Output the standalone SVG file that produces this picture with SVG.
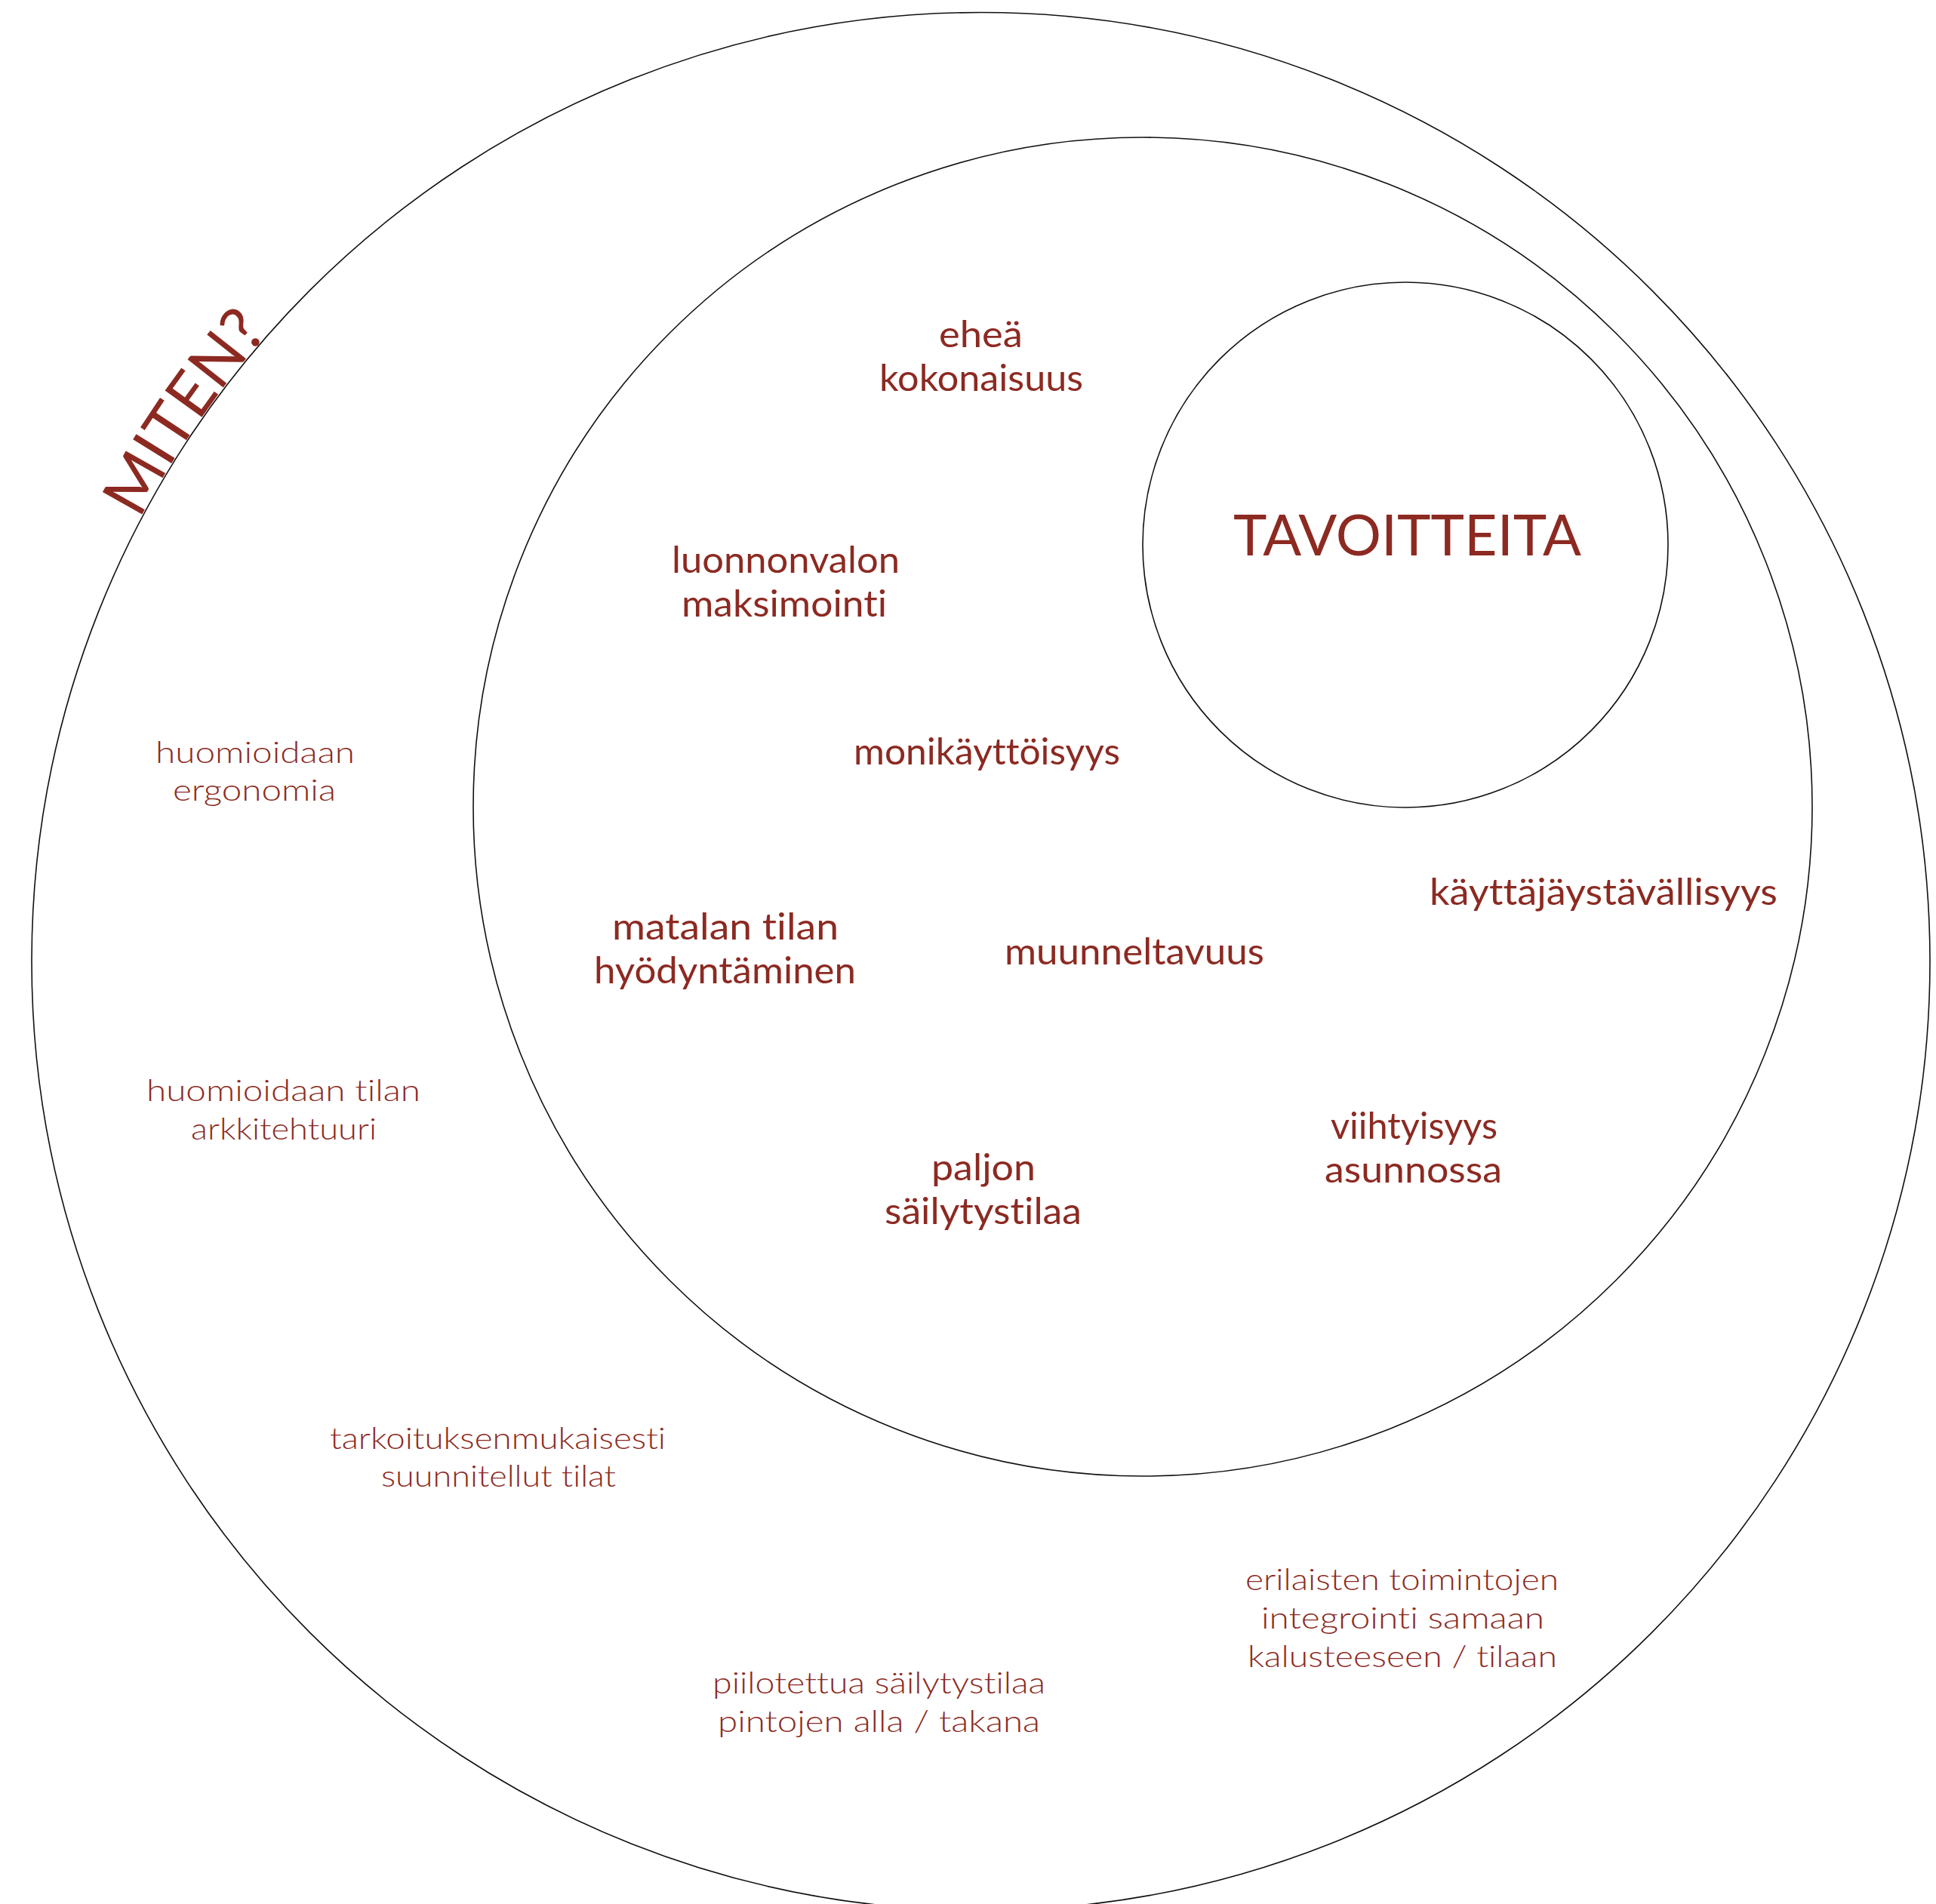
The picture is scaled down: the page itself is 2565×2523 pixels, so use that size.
<svg xmlns="http://www.w3.org/2000/svg" width="2565" height="2523" viewBox="0 0 2565 2523">
<style>
.ring{fill:none;stroke:#111;stroke-width:1.6}
.t{font-family:Lato,"Noto Sans","Liberation Sans",sans-serif;fill:#8c2a22;font-variant-ligatures:none}
.in{font-size:48px;font-weight:400}
.out{font-size:40px;font-weight:300}
.big{font-size:76px;font-weight:400}
</style>
<defs>
<path id="arc" d="M 59.6 1055.4 A 1259 1259 0 0 1 670 183.7"/>
</defs>
<rect width="2565" height="2523" fill="#fff"/>
<g id="outer-circle">
<circle class="ring" cx="1299.5" cy="1274" r="1257.5"/>
<text class="t" font-size="84" font-weight="400"><textPath href="#arc" startOffset="540" text-anchor="middle">MITEN?</textPath></text>
</g>
<g id="middle-circle">
<circle class="ring" cx="1514" cy="1069" r="887"/>
</g>
<g id="inner-circle">
<circle class="ring" cx="1862" cy="722" r="348"/>
<text class="t big" x="1634" y="736" textLength="461" lengthAdjust="spacingAndGlyphs">TAVOITTEITA</text>
</g>
<g id="goal-ehea">
<text class="t in" x="1244" y="460" textLength="111" lengthAdjust="spacingAndGlyphs">eheä</text>
<text class="t in" x="1165" y="518" textLength="270" lengthAdjust="spacingAndGlyphs">kokonaisuus</text>
</g>
<g id="goal-luonnonvalo">
<text class="t in" x="890" y="759" textLength="302" lengthAdjust="spacingAndGlyphs">luonnonvalon</text>
<text class="t in" x="903" y="817" textLength="272" lengthAdjust="spacingAndGlyphs">maksimointi</text>
</g>
<g id="goal-monikayttoisyys">
<text class="t in" x="1131" y="1013" textLength="353" lengthAdjust="spacingAndGlyphs">monikäyttöisyys</text>
</g>
<g id="goal-matala">
<text class="t in" x="811" y="1245" textLength="300" lengthAdjust="spacingAndGlyphs">matalan tilan</text>
<text class="t in" x="787" y="1303" textLength="347" lengthAdjust="spacingAndGlyphs">hyödyntäminen</text>
</g>
<g id="goal-muunneltavuus">
<text class="t in" x="1331" y="1278" textLength="344" lengthAdjust="spacingAndGlyphs">muunneltavuus</text>
</g>
<g id="goal-kayttajaystavallisyys">
<text class="t in" x="1894" y="1199" textLength="461" lengthAdjust="spacingAndGlyphs">käyttäjäystävällisyys</text>
</g>
<g id="goal-viihtyisyys">
<text class="t in" x="1763" y="1509" textLength="221" lengthAdjust="spacingAndGlyphs">viihtyisyys</text>
<text class="t in" x="1755" y="1567" textLength="235" lengthAdjust="spacingAndGlyphs">asunnossa</text>
</g>
<g id="goal-sailytystila">
<text class="t in" x="1234" y="1564" textLength="138" lengthAdjust="spacingAndGlyphs">paljon</text>
<text class="t in" x="1172" y="1622" textLength="261" lengthAdjust="spacingAndGlyphs">säilytystilaa</text>
</g>
<g id="how-ergonomia">
<text class="t out" x="206" y="1011" textLength="264" lengthAdjust="spacingAndGlyphs">huomioidaan</text>
<text class="t out" x="229" y="1061" textLength="216" lengthAdjust="spacingAndGlyphs">ergonomia</text>
</g>
<g id="how-arkkitehtuuri">
<text class="t out" x="194" y="1459" textLength="363" lengthAdjust="spacingAndGlyphs">huomioidaan tilan</text>
<text class="t out" x="253" y="1510" textLength="246" lengthAdjust="spacingAndGlyphs">arkkitehtuuri</text>
</g>
<g id="how-tarkoituksenmukaisesti">
<text class="t out" x="437" y="1920" textLength="445" lengthAdjust="spacingAndGlyphs">tarkoituksenmukaisesti</text>
<text class="t out" x="505" y="1970" textLength="311" lengthAdjust="spacingAndGlyphs">suunnitellut tilat</text>
</g>
<g id="how-piilotettu">
<text class="t out" x="944" y="2244" textLength="441" lengthAdjust="spacingAndGlyphs">piilotettua säilytystilaa</text>
<text class="t out" x="951" y="2295" textLength="427" lengthAdjust="spacingAndGlyphs">pintojen alla / takana</text>
</g>
<g id="how-integrointi">
<text class="t out" x="1650" y="2107" textLength="415" lengthAdjust="spacingAndGlyphs">erilaisten toimintojen</text>
<text class="t out" x="1671" y="2158" textLength="375" lengthAdjust="spacingAndGlyphs">integrointi samaan</text>
<text class="t out" x="1653" y="2209" textLength="410" lengthAdjust="spacingAndGlyphs">kalusteeseen / tilaan</text>
</g>
<g id="connectors"/>
</svg>
